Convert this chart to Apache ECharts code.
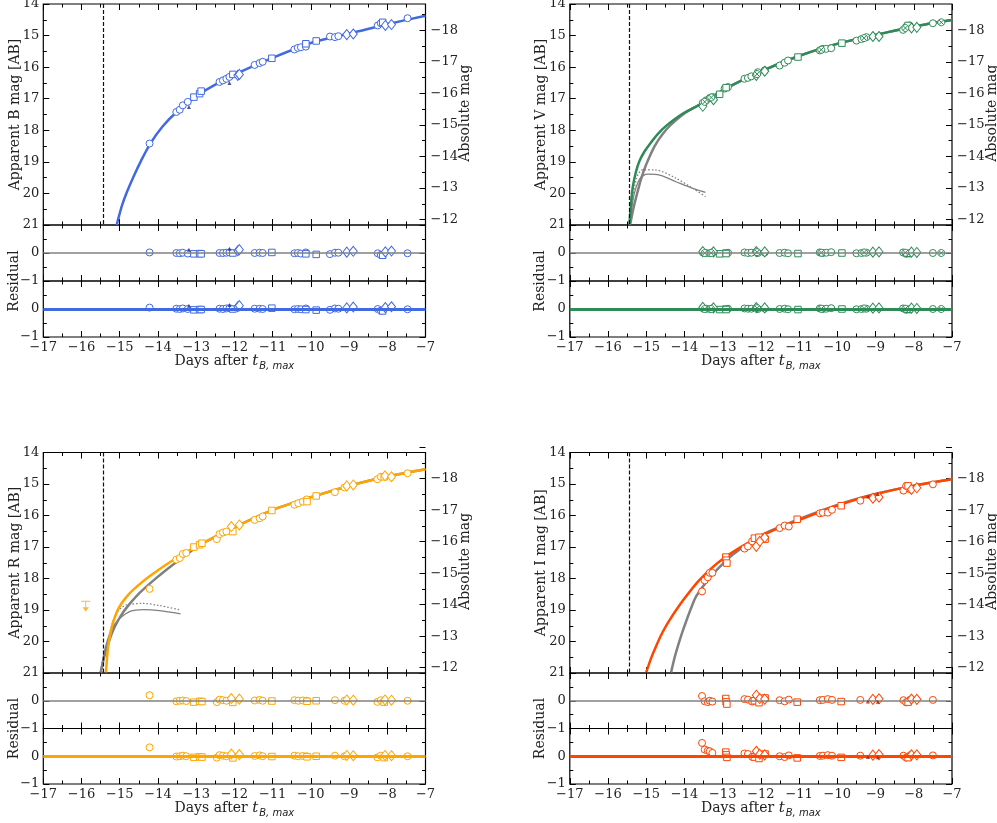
<!DOCTYPE html>
<html>
<head>
<meta charset="utf-8">
<script src="https://cdn.jsdelivr.net/npm/echarts@6/dist/echarts.min.js"></script>
<style>
html, body { margin: 0; padding: 0; background: #fff; }
#chart { width: 997px; height: 823px; }
</style>
</head>
<body>
<div id="chart"></div>
<script>
// epoch of first light and distance modulus
var tExp = -15.44;
var DM = 32.83;

// points: [days, apparent mag, residual fit 1, residual fit 2]
var bCircle = [
  [-14.22, 18.42, 0.02, 0.05], [-13.52, 17.42, 0.00, 0.01], [-13.43, 17.35, -0.01, 0.00],
  [-13.35, 17.21, 0.01, 0.02], [-13.22, 17.10, -0.02, 0.00], [-12.39, 16.47, 0.00, 0.01],
  [-12.30, 16.42, 0.00, 0.00], [-12.21, 16.37, 0.01, 0.02], [-12.13, 16.31, 0.02, 0.03],
  [-11.47, 15.93, 0.00, 0.01], [-11.34, 15.87, 0.01, 0.01], [-11.26, 15.83, 0.00, 0.00],
  [-10.43, 15.44, -0.01, -0.01], [-10.34, 15.39, 0.00, 0.00], [-10.26, 15.37, -0.02, -0.01],
  [-10.13, 15.35, 0.02, 0.02], [-9.50, 15.03, -0.04, -0.03], [-9.37, 15.05, 0.01, 0.02],
  [-9.28, 15.02, 0.01, 0.01], [-8.25, 14.68, -0.01, 0.00], [-8.17, 14.61, -0.07, -0.06],
  [-7.47, 14.45, -0.01, -0.01]
];
var bSquare = [
  [-13.06, 16.95, -0.03, -0.03], [-12.91, 16.84, -0.02, -0.02], [-12.87, 16.76, -0.03, -0.02],
  [-12.04, 16.23, 0.00, 0.00], [-11.02, 15.72, 0.02, 0.03], [-10.13, 15.26, -0.03, -0.02],
  [-9.86, 15.17, -0.05, -0.04], [-8.12, 14.58, -0.08, -0.07]
];
var bDiamond = [
  [-11.91, 16.26, 0.08, 0.08], [-11.87, 16.23, 0.12, 0.12], [-9.06, 14.97, 0.03, 0.04],
  [-8.89, 14.95, 0.06, 0.07], [-8.05, 14.68, 0.04, 0.05], [-7.89, 14.65, 0.07, 0.08]
];
var bStar = [[-13.19, 17.26, 0.12, 0.12], [-12.13, 16.50, 0.15, 0.14]];

var vCircle = [
  [-13.52, 17.13, 0.02, 0.03], [-13.43, 17.05, 0.00, 0.01], [-13.34, 16.98, -0.01, 0.00],
  [-13.26, 16.95, 0.03, 0.03], [-12.95, 16.68, 0.00, 0.00], [-12.86, 16.63, 0.01, 0.01],
  [-12.43, 16.37, 0.02, 0.02], [-12.34, 16.34, 0.00, 0.01], [-12.25, 16.29, 0.01, 0.01],
  [-12.08, 16.16, 0.00, 0.00], [-11.90, 16.10, 0.02, 0.02], [-11.51, 15.95, 0.00, 0.00],
  [-11.38, 15.86, 0.01, 0.01], [-11.29, 15.79, -0.01, -0.01], [-10.46, 15.47, 0.02, 0.02],
  [-10.38, 15.42, 0.00, 0.00], [-10.29, 15.42, 0.01, 0.01], [-10.16, 15.40, 0.03, 0.03],
  [-9.50, 15.16, -0.01, -0.01], [-9.37, 15.11, 0.00, 0.00], [-9.24, 15.05, 0.01, 0.01],
  [-8.28, 14.82, 0.02, 0.02], [-8.20, 14.72, -0.03, -0.03], [-8.11, 14.68, -0.02, -0.02],
  [-7.50, 14.61, 0.00, 0.00]
];
var vSquare = [
  [-13.08, 16.86, -0.03, -0.02], [-12.91, 16.65, -0.02, -0.02], [-11.03, 15.68, -0.02, -0.02],
  [-9.88, 15.24, 0.00, 0.00], [-8.15, 14.68, -0.01, -0.01]
];
var vDiamond = [
  [-13.52, 17.24, 0.05, 0.06], [-13.24, 17.03, 0.04, 0.04], [-12.12, 16.26, 0.05, 0.05],
  [-11.90, 16.13, 0.04, 0.04], [-9.07, 15.03, 0.03, 0.03], [-8.91, 15.03, 0.04, 0.04],
  [-8.06, 14.76, 0.03, 0.03], [-7.92, 14.74, 0.02, 0.02]
];
var vCross = [
  [-13.47, 17.10, 0.00, 0.00], [-13.30, 16.96, 0.00, 0.00], [-12.10, 16.22, 0.03, 0.03],
  [-10.42, 15.45, 0.01, 0.01], [-9.30, 15.08, 0.02, 0.02], [-8.22, 14.76, 0.01, 0.01],
  [-7.28, 14.58, 0.00, 0.00]
];

var rCircle = [
  [-14.22, 18.33, 0.20, 0.32], [-13.52, 17.40, -0.02, -0.01], [-13.43, 17.35, 0.00, 0.00],
  [-13.35, 17.22, 0.01, 0.02], [-13.26, 17.19, -0.01, 0.00], [-12.46, 16.75, -0.05, -0.05],
  [-12.39, 16.59, 0.04, 0.04], [-12.30, 16.54, 0.02, 0.02], [-12.21, 16.51, 0.00, 0.00],
  [-11.47, 16.14, 0.01, 0.01], [-11.34, 16.09, 0.03, 0.03], [-11.26, 16.03, 0.00, 0.00],
  [-10.43, 15.66, 0.02, 0.02], [-10.33, 15.61, 0.00, 0.00], [-10.21, 15.56, 0.01, 0.01],
  [-10.11, 15.49, 0.00, 0.00], [-9.37, 15.26, 0.02, 0.02], [-9.12, 15.11, 0.00, 0.00],
  [-8.26, 14.85, -0.04, -0.04], [-8.17, 14.77, 0.02, 0.02], [-7.47, 14.66, 0.00, 0.00]
];
var rSquare = [
  [-13.06, 17.00, -0.05, -0.04], [-12.91, 16.93, -0.02, -0.02], [-12.85, 16.88, -0.03, -0.03],
  [-12.04, 16.51, -0.06, -0.06], [-11.02, 15.84, -0.01, -0.01], [-10.10, 15.56, -0.02, -0.02],
  [-9.86, 15.38, 0.00, 0.00], [-8.08, 14.77, -0.05, -0.05]
];
var rDiamond = [
  [-12.08, 16.35, 0.08, 0.08], [-11.87, 16.30, 0.06, 0.06], [-9.06, 15.06, 0.03, 0.03],
  [-8.89, 15.03, 0.02, 0.02], [-8.06, 14.74, 0.03, 0.03], [-7.89, 14.77, 0.02, 0.02]
];
var rLimit = [[-15.89, 18.71]];

var iCircle = [
  [-13.54, 18.41, 0.17, 0.48], [-13.47, 18.06, -0.02, 0.24], [-13.39, 17.96, -0.05, 0.20],
  [-13.34, 17.82, 0.00, 0.18], [-13.27, 17.82, -0.03, 0.12], [-12.43, 17.05, 0.06, 0.10],
  [-12.34, 16.98, 0.04, 0.08], [-12.23, 16.82, -0.03, -0.02], [-11.51, 16.40, 0.02, 0.00],
  [-11.38, 16.32, -0.02, -0.03], [-11.27, 16.35, 0.04, 0.03], [-10.46, 15.93, 0.02, 0.01],
  [-10.38, 15.91, 0.03, 0.02], [-10.25, 15.91, 0.06, 0.04], [-10.14, 15.82, 0.03, 0.02],
  [-9.40, 15.53, 0.03, 0.02], [-8.27, 15.21, 0.02, 0.02], [-8.20, 15.06, -0.06, -0.05],
  [-8.09, 15.17, 0.04, 0.04], [-7.50, 15.01, 0.03, 0.03]
];
var iSquare = [
  [-12.92, 17.32, 0.08, 0.15], [-12.91, 17.42, -0.04, 0.05], [-12.89, 17.51, -0.12, -0.04],
  [-12.17, 16.72, 0.00, -0.03], [-12.05, 16.69, -0.07, -0.08], [-11.89, 16.75, 0.10, 0.08],
  [-11.05, 16.12, -0.05, -0.06], [-9.90, 15.69, -0.03, -0.04], [-8.15, 15.06, -0.05, -0.05]
];
var iDiamond = [
  [-12.12, 16.98, 0.20, 0.18], [-12.03, 16.82, 0.08, 0.07], [-11.90, 16.70, 0.06, 0.05],
  [-9.07, 15.45, 0.05, 0.04], [-8.91, 15.42, 0.07, 0.06], [-8.06, 15.17, 0.06, 0.05],
  [-7.92, 15.12, 0.05, 0.05]
];
var iStar = [[-9.20, 15.40, -0.03, -0.03], [-8.94, 15.32, -0.04, -0.04]];

// model curves: [days, apparent mag]
var bModel = [[-15.08, 21.0], [-15.02, 20.72], [-14.94, 20.38], [-14.82, 19.98], [-14.64, 19.47],
  [-14.44, 18.96], [-14.20, 18.42], [-13.88, 17.88], [-13.51, 17.42], [-12.90, 16.84],
  [-12.03, 16.26], [-10.99, 15.70], [-9.94, 15.21], [-8.90, 14.91], [-8.03, 14.65], [-7.00, 14.37]];

var vModel = [[-15.44, 20.98], [-15.40, 20.35], [-15.35, 19.78], [-15.27, 19.32], [-15.18, 18.98],
  [-15.05, 18.68], [-14.91, 18.44], [-14.70, 18.12], [-14.48, 17.86], [-14.04, 17.47],
  [-13.56, 17.16], [-12.91, 16.67], [-11.86, 16.06], [-10.99, 15.64], [-9.94, 15.24],
  [-8.89, 14.95], [-8.02, 14.72], [-7.00, 14.51]];
var vFit = [[-15.42, 20.98], [-15.34, 20.50], [-15.26, 20.10], [-15.13, 19.52], [-15.00, 19.08],
  [-14.78, 18.50], [-14.56, 18.10], [-14.35, 17.82], [-13.95, 17.42], [-13.56, 17.16],
  [-12.91, 16.67], [-11.86, 16.06], [-10.99, 15.64], [-9.94, 15.24], [-8.89, 14.95],
  [-8.02, 14.72], [-7.00, 14.51]];
var vShock = [[-15.42, 20.98], [-15.37, 20.40], [-15.31, 19.99], [-15.18, 19.56], [-15.06, 19.42],
  [-14.96, 19.39], [-14.65, 19.42], [-14.22, 19.63], [-13.78, 19.84], [-13.45, 19.97]];
var vShockDot = [[-15.42, 20.98], [-15.39, 20.50], [-15.35, 20.10], [-15.25, 19.50], [-15.17, 19.32],
  [-15.09, 19.25], [-14.74, 19.26], [-14.22, 19.52], [-13.78, 19.84], [-13.45, 20.10]];

var rModel = [[-15.36, 20.98], [-15.33, 20.50], [-15.30, 20.14], [-15.24, 19.72], [-15.17, 19.38],
  [-15.07, 19.05], [-14.96, 18.80], [-14.80, 18.55], [-14.65, 18.36], [-14.22, 17.93],
  [-13.52, 17.35], [-12.91, 16.93], [-11.87, 16.30], [-10.99, 15.82], [-9.95, 15.40],
  [-8.91, 15.03], [-8.04, 14.77], [-7.00, 14.53]];
var rFit = [[-15.50, 20.98], [-15.43, 20.60], [-15.35, 20.25], [-15.24, 19.85], [-15.13, 19.53],
  [-14.98, 19.20], [-14.83, 18.94], [-14.48, 18.46], [-14.04, 17.98], [-13.61, 17.56],
  [-13.30, 17.28], [-12.91, 16.94], [-11.87, 16.30], [-10.99, 15.82], [-9.95, 15.40],
  [-8.91, 15.03], [-8.04, 14.77], [-7.00, 14.53]];
var rShock = [[-15.50, 20.98], [-15.40, 20.30], [-15.26, 19.74], [-15.13, 19.45], [-15.00, 19.26],
  [-14.74, 19.05], [-14.39, 18.99], [-13.96, 19.02], [-13.41, 19.12]];
var rShockDot = [[-15.47, 20.98], [-15.39, 20.40], [-15.30, 19.93], [-15.20, 19.45], [-15.09, 19.12],
  [-14.96, 18.93], [-14.83, 18.84], [-14.39, 18.79], [-13.96, 18.86], [-13.41, 19.00]];

var iModel = [[-15.00, 20.98], [-14.87, 20.52], [-14.74, 20.14], [-14.57, 19.70], [-14.39, 19.32],
  [-14.04, 18.70], [-13.61, 18.05], [-12.99, 17.37], [-12.03, 16.67], [-10.99, 16.14],
  [-9.94, 15.66], [-8.98, 15.32], [-8.02, 15.06], [-7.00, 14.85]];
var iFit = [[-14.35, 20.98], [-14.26, 20.52], [-14.17, 20.14], [-14.06, 19.72], [-13.95, 19.34],
  [-13.82, 18.92], [-13.69, 18.56], [-13.34, 17.98], [-12.99, 17.53], [-12.70, 17.21],
  [-12.03, 16.65], [-10.99, 16.11], [-9.94, 15.64], [-8.98, 15.31], [-8.02, 15.06], [-7.00, 14.85]];

var panels = [
  {band: 'B', color: '#4169e1', col: 0, row: 0, circle: bCircle, square: bSquare, diamond: bDiamond, star: bStar, model: bModel},
  {band: 'V', color: '#2e8b57', col: 1, row: 0, circle: vCircle, square: vSquare, diamond: vDiamond, cross: vCross,
    model: vModel, fit: vFit, shock: vShock, shockDot: vShockDot},
  {band: 'R', color: '#ffa500', col: 0, row: 1, circle: rCircle, square: rSquare, diamond: rDiamond, limit: rLimit,
    model: rModel, fit: rFit, shock: rShock, shockDot: rShockDot},
  {band: 'I', color: '#ff4500', col: 1, row: 1, circle: iCircle, square: iSquare, diamond: iDiamond, star: iStar,
    model: iModel, fit: iFit}
];

var SERIF = 'DejaVu Serif';
var cols = [[43.3, 425.5], [569.8, 952]];
var rows = [[4, 225, 281, 337], [452.5, 673, 728.5, 784]];

var grid = [], xAxis = [], yAxis = [], series = [];

function minus(v) { return String(v).replace('-', '\u2212'); }

function addGrid(x0, x1, y0, y1, frame) {
  grid.push({left: x0, top: y0, width: x1 - x0, height: y1 - y0, show: frame,
    borderColor: '#000', borderWidth: 1.2, backgroundColor: 'transparent',
    containLabel: false, outerBoundsMode: 'none'});
  return grid.length - 1;
}

function tick() { return {inside: true, length: 6, lineStyle: {color: '#000', width: 1}}; }
function minor() { return {show: true, splitNumber: 2, length: 3.5, lineStyle: {color: '#000', width: 1}}; }
var nameStyle = {fontFamily: SERIF, fontSize: 14, color: '#222'};

function xAx(gi, pos, showLab) {
  xAxis.push({type: 'value', gridIndex: gi, position: pos, min: -17, max: -7, interval: 1,
    axisLine: {show: false, onZero: false}, splitLine: {show: false}, axisTick: tick(), minorTick: minor(),
    axisLabel: {show: showLab, margin: 4, color: '#222', fontFamily: SERIF, fontSize: 13, formatter: minus}});
  return xAxis.length - 1;
}
function hiddenX(gi) {
  xAxis.push({type: 'value', gridIndex: gi, show: false, min: 0, max: 1, axisLine: {onZero: false}});
  return xAxis.length - 1;
}
function yAx(o) {
  var a = Object.assign({type: 'value', axisLine: {show: false, onZero: false}, splitLine: {show: false},
    axisTick: tick(), minorTick: minor(), nameMoveOverlap: false}, o);
  yAxis.push(a);
  return yAxis.length - 1;
}
function lab(hide) {
  return {margin: 4, color: '#222', fontFamily: SERIF, fontSize: 13,
    formatter: function (v) { return v === hide ? '' : minus(v); }};
}

function scatter(xi, yi, data, col, symbol, size, z) {
  series.push({type: 'scatter', xAxisIndex: xi, yAxisIndex: yi, data: data, symbol: symbol,
    symbolSize: size, z: z || 4, silent: true,
    itemStyle: {color: '#fff', borderColor: col, borderWidth: 1, opacity: 1}});
}
function curve(xi, yi, data, col, width, type, z) {
  series.push({type: 'line', xAxisIndex: xi, yAxisIndex: yi, data: data, showSymbol: false,
    smooth: 0.3, silent: true, z: z || 2,
    lineStyle: {color: col, width: width, type: type || 'solid'}});
}
function hline(xi, yi, col, width) {
  series.push({type: 'line', xAxisIndex: xi, yAxisIndex: yi, data: [], z: 1, silent: true,
    markLine: {silent: true, symbol: 'none', label: {show: false}, animation: false,
      lineStyle: {color: col, width: width, type: 'solid'}, data: [{yAxis: 0}]}});
}

// circle with a cross, as a polygon path (symbol shape only)
var crossPath = (function () {
  var s = 'path://';
  for (var k = 0; k <= 16; k++) {
    var a = k / 16 * 2 * Math.PI;
    s += (k ? 'L' : 'M') + (10 + 10 * Math.cos(a)).toFixed(2) + ',' + (10 + 10 * Math.sin(a)).toFixed(2);
  }
  return s + 'ZM3,3L17,17M17,3L3,17';
})();
var limitPath = 'path://M0,0L10,0L10,1L0,1ZM4.5,1L5.5,1L5.5,8L4.5,8ZM1.5,7L8.5,7L5,12Z';

panels.forEach(function (p) {
  var c = cols[p.col], r = rows[p.row];
  var gMain = addGrid(c[0], c[1], r[0], r[1], true);
  var gR1 = addGrid(c[0], c[1], r[1], r[2], true);
  var gR2 = addGrid(c[0], c[1], r[2], r[3], true);

  var xm = xAx(gMain, 'bottom', false); xAx(gMain, 'top', false);
  var x1 = xAx(gR1, 'bottom', false); xAx(gR1, 'top', false);
  var x2 = xAx(gR2, 'bottom', true); xAx(gR2, 'top', false);
  xAxis[x2].name = '{a|Days after }{t|t}{s|B, max}';
  xAxis[x2].nameLocation = 'middle';
  xAxis[x2].nameGap = 17;
  xAxis[x2].nameMoveOverlap = false;
  xAxis[x2].nameTextStyle = {rich: {
    a: {fontFamily: SERIF, fontSize: 14, color: '#222', lineHeight: 20, verticalAlign: 'top'},
    t: {fontFamily: SERIF, fontStyle: 'italic', fontSize: 15, color: '#222', lineHeight: 20, verticalAlign: 'top'},
    s: {fontFamily: 'DejaVu Sans', fontStyle: 'italic', fontSize: 10, color: '#222', lineHeight: 20,
      verticalAlign: 'top', padding: [7, 0, 0, 1]}
  }};

  var ym = yAx({gridIndex: gMain, position: 'left', inverse: true, min: 14, max: 21, interval: 1,
    axisLabel: lab(null), name: 'Apparent ' + p.band + ' mag [AB]', nameLocation: 'middle',
    nameGap: 21, nameTextStyle: nameStyle});
  var y1 = yAx({gridIndex: gR1, position: 'left', min: -1, max: 1, interval: 1, axisLabel: lab(1)});
  yAx({gridIndex: gR1, position: 'right', min: -1, max: 1, interval: 1, axisLabel: {show: false}});
  var y2 = yAx({gridIndex: gR2, position: 'left', min: -1, max: 1, interval: 1, axisLabel: lab(1)});
  yAx({gridIndex: gR2, position: 'right', min: -1, max: 1, interval: 1, axisLabel: {show: false}});

  // absolute magnitude axis on its own shifted grid
  var pxm = (r[1] - r[0]) / 7;
  var absTop = r[0] + (DM - 19 - 14) * pxm;
  var gAbs = addGrid(c[0], c[1], absTop, absTop + 7 * pxm, false);
  hiddenX(gAbs);
  yAx({gridIndex: gAbs, position: 'right', inverse: true, min: -19, max: -12, interval: 1,
    axisLabel: Object.assign(lab(-19), {margin: 5}), name: 'Absolute mag', nameLocation: 'middle',
    nameRotate: 90, nameGap: 33, nameTextStyle: Object.assign({padding: [0, 8, 0, 0]}, nameStyle)});

  // residual label spanning both residual panels
  var gRes = addGrid(c[0], c[1], r[1], r[3], false);
  hiddenX(gRes);
  yAx({gridIndex: gRes, position: 'left', min: 0, max: 1, axisTick: {show: false},
    minorTick: {show: false}, axisLabel: {show: false}, name: 'Residual', nameLocation: 'middle',
    nameGap: 22, nameTextStyle: nameStyle});

  // explosion epoch
  series.push({type: 'line', xAxisIndex: xm, yAxisIndex: ym, data: [], z: 1, silent: true,
    markLine: {silent: true, symbol: 'none', label: {show: false}, animation: false,
      lineStyle: {color: '#111', width: 1.2, type: [4, 2]}, data: [{xAxis: tExp}]}});

  if (p.fit) curve(xm, ym, p.fit, '#808080', 2.5);
  if (p.shock) curve(xm, ym, p.shock, '#808080', 1.3);
  if (p.shockDot) curve(xm, ym, p.shockDot, '#808080', 1.3, [1.5, 2]);
  curve(xm, ym, p.model, p.color, 2.5, 'solid', 3);

  hline(x1, y1, '#808080', 1.6);
  hline(x2, y2, p.color, 3);

  var sets = [[p.circle, 'circle', 7], [p.square, 'rect', 6.5], [p.diamond, 'diamond', [8, 10]]];
  if (p.cross) sets.push([p.cross, crossPath, 7]);
  sets.forEach(function (s) {
    if (!s[0]) return;
    scatter(xm, ym, s[0].map(function (d) { return [d[0], d[1]]; }), p.color, s[1], s[2]);
    scatter(x1, y1, s[0].map(function (d) { return [d[0], d[2]]; }), p.color, s[1], s[2]);
    scatter(x2, y2, s[0].map(function (d) { return [d[0], d[3]]; }), p.color, s[1], s[2]);
  });
  if (p.star) {
    var dark = p.band === 'B' ? '#1f2f7a' : '#a02000';
    [[xm, ym, 1], [x1, y1, 2], [x2, y2, 3]].forEach(function (a) {
      series.push({type: 'scatter', xAxisIndex: a[0], yAxisIndex: a[1], silent: true, z: 5,
        data: p.star.map(function (d) { return [d[0], d[a[2]]]; }), symbol: 'triangle', symbolSize: 4,
        itemStyle: {color: dark}});
    });
  }
  if (p.limit) {
    series.push({type: 'scatter', xAxisIndex: xm, yAxisIndex: ym, data: p.limit, silent: true, z: 5,
      symbol: limitPath, symbolSize: [9, 11], symbolOffset: [0, 5.5],
      itemStyle: {color: p.color}});
  }
});

var chart = echarts.init(document.getElementById('chart'));
chart.setOption({
  animation: false,
  backgroundColor: '#fff',
  grid: grid,
  xAxis: xAxis,
  yAxis: yAxis,
  series: series
});
</script>
</body>
</html>
